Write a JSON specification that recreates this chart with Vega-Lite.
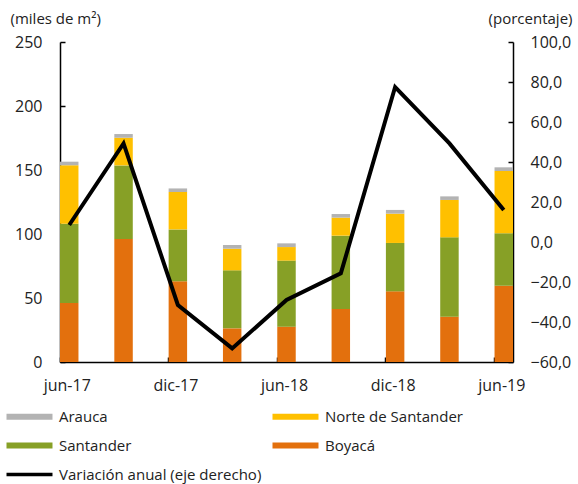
{
  "$schema": "https://vega.github.io/schema/vega-lite/v6.json",
  "width": 453,
  "height": 320,
  "autosize": {"type": "none"},
  "padding": {"left": 60, "top": 42, "right": 65, "bottom": 122},
  "config": {
    "font": "Open Sans",
    "view": {"stroke": null},
    "axis": {
      "labelFont": "Open Sans",
      "labelFontSize": 16,
      "labelColor": "#222",
      "domainColor": "#000",
      "tickColor": "#000",
      "domainWidth": 1.5,
      "tickWidth": 1.5,
      "grid": false,
      "titleFont": "Open Sans",
      "titleFontSize": 15,
      "titleFontWeight": "normal",
      "titleColor": "#222"
    },
    "legend": {"labelFont": "Open Sans", "labelFontSize": 15, "labelColor": "#222", "labelLimit": 400}
  },
  "datasets": {
    "barras": [
      {"periodo": "jun-17", "serie": "Boyacá", "valor": 46.0, "orden": 1},
      {"periodo": "jun-17", "serie": "Santander", "valor": 62.0, "orden": 2},
      {"periodo": "jun-17", "serie": "Norte de Santander", "valor": 45.7, "orden": 3},
      {"periodo": "jun-17", "serie": "Arauca", "valor": 2.8, "orden": 4},
      {"periodo": "sep-17", "serie": "Boyacá", "valor": 96.0, "orden": 1},
      {"periodo": "sep-17", "serie": "Santander", "valor": 57.6, "orden": 2},
      {"periodo": "sep-17", "serie": "Norte de Santander", "valor": 21.6, "orden": 3},
      {"periodo": "sep-17", "serie": "Arauca", "valor": 2.9, "orden": 4},
      {"periodo": "dic-17", "serie": "Boyacá", "valor": 63.0, "orden": 1},
      {"periodo": "dic-17", "serie": "Santander", "valor": 40.6, "orden": 2},
      {"periodo": "dic-17", "serie": "Norte de Santander", "valor": 29.2, "orden": 3},
      {"periodo": "dic-17", "serie": "Arauca", "valor": 2.8, "orden": 4},
      {"periodo": "mar-18", "serie": "Boyacá", "valor": 26.3, "orden": 1},
      {"periodo": "mar-18", "serie": "Santander", "valor": 45.3, "orden": 2},
      {"periodo": "mar-18", "serie": "Norte de Santander", "valor": 16.9, "orden": 3},
      {"periodo": "mar-18", "serie": "Arauca", "valor": 2.9, "orden": 4},
      {"periodo": "jun-18", "serie": "Boyacá", "valor": 27.6, "orden": 1},
      {"periodo": "jun-18", "serie": "Santander", "valor": 51.6, "orden": 2},
      {"periodo": "jun-18", "serie": "Norte de Santander", "valor": 10.6, "orden": 3},
      {"periodo": "jun-18", "serie": "Arauca", "valor": 2.9, "orden": 4},
      {"periodo": "sep-18", "serie": "Boyacá", "valor": 41.4, "orden": 1},
      {"periodo": "sep-18", "serie": "Santander", "valor": 57.3, "orden": 2},
      {"periodo": "sep-18", "serie": "Norte de Santander", "valor": 14.1, "orden": 3},
      {"periodo": "sep-18", "serie": "Arauca", "valor": 2.8, "orden": 4},
      {"periodo": "dic-18", "serie": "Boyacá", "valor": 55.2, "orden": 1},
      {"periodo": "dic-18", "serie": "Santander", "valor": 37.8, "orden": 2},
      {"periodo": "dic-18", "serie": "Norte de Santander", "valor": 22.9, "orden": 3},
      {"periodo": "dic-18", "serie": "Arauca", "valor": 2.9, "orden": 4},
      {"periodo": "mar-19", "serie": "Boyacá", "valor": 35.4, "orden": 1},
      {"periodo": "mar-19", "serie": "Santander", "valor": 62.0, "orden": 2},
      {"periodo": "mar-19", "serie": "Norte de Santander", "valor": 29.2, "orden": 3},
      {"periodo": "mar-19", "serie": "Arauca", "valor": 2.8, "orden": 4},
      {"periodo": "jun-19", "serie": "Boyacá", "valor": 59.6, "orden": 1},
      {"periodo": "jun-19", "serie": "Santander", "valor": 40.9, "orden": 2},
      {"periodo": "jun-19", "serie": "Norte de Santander", "valor": 48.7, "orden": 3},
      {"periodo": "jun-19", "serie": "Arauca", "valor": 2.9, "orden": 4}
    ],
    "variacion": [
      {"periodo": "jun-17", "serie": "Variación anual (eje derecho)", "variacion": 8.5},
      {"periodo": "sep-17", "serie": "Variación anual (eje derecho)", "variacion": 49.3},
      {"periodo": "dic-17", "serie": "Variación anual (eje derecho)", "variacion": -31.5},
      {"periodo": "mar-18", "serie": "Variación anual (eje derecho)", "variacion": -53.2},
      {"periodo": "jun-18", "serie": "Variación anual (eje derecho)", "variacion": -29.0},
      {"periodo": "sep-18", "serie": "Variación anual (eje derecho)", "variacion": -15.7},
      {"periodo": "dic-18", "serie": "Variación anual (eje derecho)", "variacion": 77.5},
      {"periodo": "mar-19", "serie": "Variación anual (eje derecho)", "variacion": 49.3},
      {"periodo": "jun-19", "serie": "Variación anual (eje derecho)", "variacion": 16.0}
    ]
  },
  "layer": [
    {
      "data": {"name": "barras"},
      "mark": {"type": "bar"},
      "encoding": {
        "x": {
          "field": "periodo",
          "type": "ordinal",
          "sort": ["jun-17", "sep-17", "dic-17", "mar-18", "jun-18", "sep-18", "dic-18", "mar-19", "jun-19"],
          "scale": {"paddingInner": 0.66, "paddingOuter": 0},
          "axis": {
            "title": null,
            "values": ["jun-17", "dic-17", "jun-18", "dic-18", "jun-19"],
            "labelAngle": 0,
            "bandPosition": 0,
            "labelOffset": -2,
            "tickSize": -5,
            "labelPadding": 20
          }
        },
        "y": {
          "field": "valor",
          "type": "quantitative",
          "stack": "zero",
          "scale": {"domain": [0, 250]},
          "axis": {
            "values": [0, 50, 100, 150, 200, 250],
            "title": "(miles de m²)",
            "titleAngle": 0,
            "titleAlign": "left",
            "titleBaseline": "alphabetic",
            "titleX": -50,
            "titleY": -19,
            "tickSize": -5,
            "labelPadding": 23
          }
        },
        "color": {
          "field": "serie",
          "type": "nominal",
          "sort": ["Arauca", "Norte de Santander", "Santander", "Boyacá", "Variación anual (eje derecho)"],
          "scale": {
            "domain": ["Arauca", "Norte de Santander", "Santander", "Boyacá", "Variación anual (eje derecho)"],
            "range": ["#b3b3b3", "#ffc000", "#87a026", "#e3700d", "#000000"]
          },
          "legend": {
            "title": null,
            "orient": "none",
            "direction": "horizontal",
            "legendX": -58,
            "legendY": 367,
            "columns": 2,
            "columnPadding": 6,
            "rowPadding": 13,
            "symbolType": "M-1,-1H14.33V1H-1Z",
            "symbolSize": 36,
            "symbolStrokeWidth": 0,
            "labelOffset": 42,
            "values": ["Arauca", "Norte de Santander", "Santander", "Boyacá", "Variación anual (eje derecho)"],
            "encode": {
              "symbols": {
                "update": {
                  "shape": {"signal": "datum.value === 'Variación anual (eje derecho)' ? 'M-1,-0.6H14.33V0.6H-1Z' : 'M-1,-1H14.33V1H-1Z'"},
                  "fill": {"scale": "color", "field": "value"},
                  "strokeWidth": {"value": 0},
                  "opacity": {"value": 1}
                }
              }
            }
          }
        },
        "order": {"field": "orden", "type": "quantitative"}
      }
    },
    {
      "data": {"name": "variacion"},
      "mark": {"type": "line", "strokeWidth": 4},
      "encoding": {
        "x": {
          "field": "periodo",
          "type": "ordinal",
          "sort": ["jun-17", "sep-17", "dic-17", "mar-18", "jun-18", "sep-18", "dic-18", "mar-19", "jun-19"]
        },
        "y": {
          "field": "variacion",
          "type": "quantitative",
          "scale": {"domain": [-60, 100]},
          "axis": {
            "orient": "right",
            "values": [-60, -40, -20, 0, 20, 40, 60, 80, 100],
            "labelExpr": "replace(format(datum.value, '.1f'), '.', ',')",
            "title": "(porcentaje)",
            "titleAngle": 0,
            "titleAlign": "right",
            "titleBaseline": "alphabetic",
            "titleX": 59,
            "titleY": -19,
            "tickSize": -5,
            "labelPadding": 22
          }
        },
        "color": {
          "field": "serie",
          "type": "nominal",
          "sort": ["Arauca", "Norte de Santander", "Santander", "Boyacá", "Variación anual (eje derecho)"]
        }
      }
    }
  ],
  "resolve": {"scale": {"y": "independent"}}
}
